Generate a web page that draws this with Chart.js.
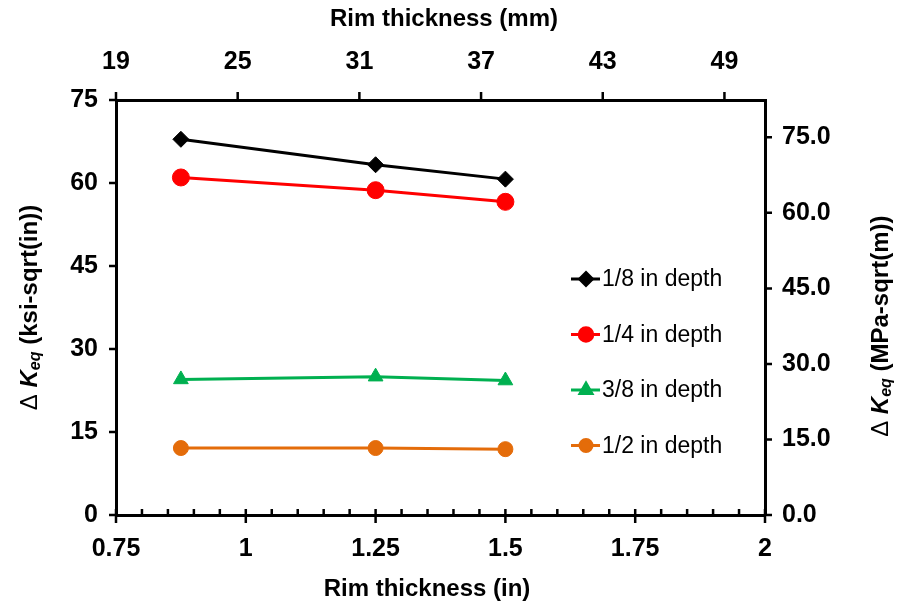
<!DOCTYPE html>
<html>
<head>
<meta charset="utf-8">
<script src="https://cdn.jsdelivr.net/npm/chart.js@4.4.1/dist/chart.umd.min.js"></script>
<style>
  html, body { margin: 0; padding: 0; background: #ffffff; }
  #wrap { width: 901px; height: 609px; position: relative; }
</style>
</head>
<body>
<div id="wrap"><canvas id="c" width="901" height="609"></canvas></div>
<script>
// Rim thickness (in) at which each crack depth was evaluated
const rimIn = [0.875, 1.25, 1.5];

// Equivalent stress intensity range, ksi-sqrt(in)
const depthLabels = ['1/8 in depth', '1/4 in depth', '3/8 in depth', '1/2 in depth'];
const depth18 = [67.9, 63.3, 60.7];
const depth14 = [61.0, 58.7, 56.6];
const depth38 = [24.5, 25.0, 24.3];
const depth12 = [12.1, 12.1, 11.9];

// Tick labels for the four axes
const inTicks = [0.75, 1, 1.25, 1.5, 1.75, 2];
const mmTicks = [19, 25, 31, 37, 43, 49];
const ksiTicks = [0, 15, 30, 45, 60, 75];
const mpaTicks = [0, 15, 30, 45, 60, 75];

// 1 ksi-sqrt(in) = 1.0988 MPa-sqrt(m)
const KSI_TO_MPA = 1.0988;

const FONT = '"Liberation Sans", Arial, sans-serif';
const TITLE_PX = 24;

function pts(ys) { return rimIn.map((x, i) => ({ x: x, y: ys[i] })); }

const series = [
  { label: depthLabels[0], data: pts(depth18), color: '#000000', style: 'rectRot', r: 8 },
  { label: depthLabels[1], data: pts(depth14), color: '#FF0000', style: 'circle', r: 8.5 },
  { label: depthLabels[2], data: pts(depth38), color: '#00B050', style: 'triangle', r: 8.5 },
  { label: depthLabels[3], data: pts(depth12), color: '#E46C0A', style: 'circle', r: 7.5 }
];

// Tick marks: outside on left/right/top, crossing majors and inside minors on the bottom
const tickMarks = {
  id: 'tickMarks',
  afterDraw(chart) {
    const ctx = chart.ctx;
    const a = chart.chartArea;
    const s = chart.scales;
    ctx.save();
    ctx.strokeStyle = '#000';
    ctx.lineWidth = 2.5;
    ctx.beginPath();
    s.y.ticks.forEach(t => {
      const p = s.y.getPixelForValue(t.value);
      ctx.moveTo(a.left - 7, p); ctx.lineTo(a.left, p);
    });
    s.y2.ticks.forEach(t => {
      const p = s.y2.getPixelForValue(t.value);
      ctx.moveTo(a.right, p); ctx.lineTo(a.right + 7, p);
    });
    s.x2.ticks.forEach(t => {
      const p = s.x2.getPixelForValue(t.value);
      ctx.moveTo(p, a.top - 8); ctx.lineTo(p, a.top);
    });
    const xt = s.x.ticks.map(t => t.value);
    xt.forEach(v => {
      const p = s.x.getPixelForValue(v);
      ctx.moveTo(p, a.bottom - 6); ctx.lineTo(p, a.bottom + 8);
    });
    for (let i = 0; i < xt.length - 1; i++) {
      const step = (xt[i + 1] - xt[i]) / 5;
      for (let k = 1; k < 5; k++) {
        const p = s.x.getPixelForValue(xt[i] + k * step);
        ctx.moveTo(p, a.bottom - 6); ctx.lineTo(p, a.bottom);
      }
    }
    ctx.stroke();
    ctx.restore();
  }
};

// Axis titles, with the italic K and subscript "eq"
function drawKeqTitle(ctx, unit) {
  const parts = [
    { t: '\u0394 ', f: TITLE_PX + 'px ' + FONT, dy: 0 },
    { t: 'K', f: 'italic bold ' + TITLE_PX + 'px ' + FONT, dy: 0 },
    { t: 'eq', f: 'italic bold 16px ' + FONT, dy: 6 },
    { t: ' ' + unit, f: 'bold ' + TITLE_PX + 'px ' + FONT, dy: 0 }
  ];
  let w = 0;
  parts.forEach(p => { ctx.font = p.f; p.w = ctx.measureText(p.t).width; w += p.w; });
  let x = -w / 2;
  ctx.textBaseline = 'middle';
  ctx.textAlign = 'left';
  parts.forEach(p => { ctx.font = p.f; ctx.fillText(p.t, x, p.dy); x += p.w; });
}

const axisTitles = {
  id: 'axisTitles',
  afterDraw(chart) {
    const ctx = chart.ctx;
    const a = chart.chartArea;
    const s = chart.scales;
    ctx.save();
    ctx.fillStyle = '#000';
    ctx.font = 'bold ' + TITLE_PX + 'px ' + FONT;
    ctx.textAlign = 'center';
    ctx.textBaseline = 'middle';
    ctx.fillText('Rim thickness (in)', 427, 589);
    ctx.fillText('Rim thickness (mm)', 444, 19);

    ctx.save();
    ctx.translate(30, (a.top + a.bottom) / 2);
    ctx.rotate(-Math.PI / 2);
    drawKeqTitle(ctx, '(ksi-sqrt(in))');
    ctx.restore();

    ctx.save();
    const yTop = s.y2.getPixelForValue(mpaTicks[mpaTicks.length - 1]);
    ctx.translate(881, (yTop + a.bottom) / 2);
    ctx.rotate(-Math.PI / 2);
    drawKeqTitle(ctx, '(MPa-sqrt(m))');
    ctx.restore();
    ctx.restore();
  }
};

// Legend placed inside the plot area
const insideLegend = {
  id: 'insideLegend',
  afterDraw(chart) {
    const ctx = chart.ctx;
    ctx.save();
    chart.data.datasets.forEach((ds, i) => {
      const y = 279 + i * 55.5;
      ctx.strokeStyle = ds.borderColor;
      ctx.lineWidth = 3;
      ctx.beginPath();
      ctx.moveTo(571, y); ctx.lineTo(600, y);
      ctx.stroke();
      ctx.fillStyle = ds.borderColor;
      Chart.helpers.drawPoint(ctx, {
        pointStyle: ds.pointStyle, radius: ds.pointRadius * 0.8, rotation: 0, borderWidth: 1
      }, 586, y);
      ctx.fillStyle = '#000';
      ctx.font = '23px ' + FONT;
      ctx.textAlign = 'left';
      ctx.textBaseline = 'middle';
      ctx.fillText(ds.label, 602, y + 1);
    });
    ctx.restore();
  }
};

const tickFont = { family: FONT, size: 25, weight: 'bold' };

new Chart(document.getElementById('c'), {
  type: 'line',
  data: {
    datasets: series.map(s => ({
      label: s.label,
      data: s.data,
      xAxisID: 'x',
      yAxisID: 'y',
      borderColor: s.color,
      backgroundColor: s.color,
      borderWidth: 3,
      pointStyle: s.style,
      pointRadius: s.r,
      pointHoverRadius: s.r,
      pointBorderWidth: 1,
      pointBackgroundColor: s.color,
      pointBorderColor: s.color,
      tension: 0,
      clip: false
    }))
  },
  options: {
    responsive: false,
    animation: false,
    devicePixelRatio: 1,
    layout: { padding: 0 },
    plugins: { legend: { display: false }, tooltip: { enabled: false } },
    scales: {
      x: {
        type: 'linear', position: 'bottom', min: 0.75, max: 2,
        afterBuildTicks: sc => { sc.ticks = inTicks.map(v => ({ value: v })); },
        afterFit: sc => { sc.height = 94; },
        grid: { display: false, drawTicks: false },
        border: { display: true, color: '#000', width: 3 },
        ticks: { font: tickFont, color: '#000', padding: 19, maxRotation: 0, autoSkip: false,
                 callback: v => String(v) }
      },
      x2: {
        type: 'linear', position: 'top', min: 19, max: 51,
        afterBuildTicks: sc => { sc.ticks = mmTicks.map(v => ({ value: v })); },
        afterFit: sc => { sc.height = 100; },
        grid: { display: false, drawTicks: false },
        border: { display: true, color: '#000', width: 3 },
        ticks: { font: tickFont, color: '#000', padding: 23, maxRotation: 0, autoSkip: false,
                 callback: v => String(v) }
      },
      y: {
        type: 'linear', position: 'left', min: 0, max: 75,
        afterBuildTicks: sc => { sc.ticks = ksiTicks.map(v => ({ value: v })); },
        afterFit: sc => { sc.width = 116; },
        grid: { display: false, drawTicks: false },
        border: { display: true, color: '#000', width: 3 },
        ticks: { font: tickFont, color: '#000', padding: 18, callback: v => String(v) }
      },
      y2: {
        type: 'linear', position: 'right', min: 0, max: 75 * KSI_TO_MPA,
        afterBuildTicks: sc => { sc.ticks = mpaTicks.map(v => ({ value: v })); },
        afterFit: sc => { sc.width = 136; },
        grid: { display: false, drawTicks: false },
        border: { display: true, color: '#000', width: 3 },
        ticks: { font: tickFont, color: '#000', padding: 17, callback: v => Number(v).toFixed(1) }
      }
    }
  },
  plugins: [tickMarks, axisTitles, insideLegend]
});
</script>
</body>
</html>
